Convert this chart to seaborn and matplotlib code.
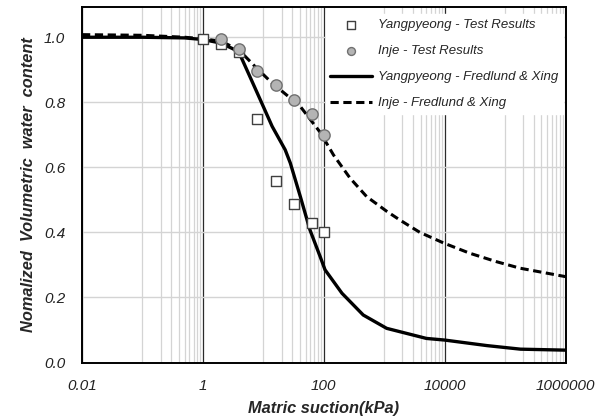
import numpy as np
import pandas as pd
import matplotlib
matplotlib.use("Agg")
import matplotlib.pyplot as plt
from matplotlib.ticker import FixedLocator, FixedFormatter, NullFormatter
import seaborn as sns

# Measured soil-water characteristic points
yang_suction = [1, 2, 4, 8, 16, 32, 64, 100]
yang_theta = [0.995, 0.98, 0.955, 0.75, 0.557, 0.486, 0.43, 0.40]

inje_suction = [2, 4, 8, 16, 32, 64, 100]
inje_theta = [0.995, 0.965, 0.895, 0.852, 0.806, 0.765, 0.70]

# Fredlund & Xing fitted curves
yang_fit_suction = [0.01, 0.1, 0.5, 1, 2, 3.9, 6, 8.9, 14, 23, 28, 41, 59, 87,
                    105, 200, 450, 1100, 5000, 10000, 50000, 180000, 1000000]
yang_fit_theta = [1.0, 1.0, 0.998, 0.993, 0.982, 0.956, 0.879, 0.808, 0.726,
                  0.654, 0.613, 0.510, 0.408, 0.326, 0.285, 0.213, 0.146,
                  0.105, 0.074, 0.069, 0.052, 0.041, 0.038]

inje_fit_suction = [0.01, 0.1, 0.5, 1, 2, 4, 7.3, 14, 28, 41, 87, 145, 272,
                    513, 1100, 1820, 3900, 9730, 26000, 72000, 176000, 1000000]
inje_fit_theta = [1.008, 1.006, 1.0, 0.995, 0.988, 0.96, 0.91, 0.859, 0.813,
                  0.787, 0.708, 0.638, 0.567, 0.51, 0.465, 0.438, 0.40, 0.367,
                  0.336, 0.31, 0.29, 0.264]

x_ticks = [0.01, 1, 100, 10000, 1000000]
x_tick_labels = ["0.01", "1", "100", "10000", "1000000"]
y_ticks = [0.0, 0.2, 0.4, 0.6, 0.8, 1.0]
y_tick_labels = ["0.0", "0.2", "0.4", "0.6", "0.8", "1.0"]

sns.set_style("white")
plt.rcParams["font.family"] = ["Liberation Sans", "DejaVu Sans"]

fig = plt.figure(figsize=(6.06, 4.18), dpi=100)
ax = fig.add_axes([82 / 606, 1 - 362.5 / 418, (565.5 - 82) / 606, (362.5 - 7) / 418])
ax.set_xscale("log")

yang_fit = pd.DataFrame({"s": yang_fit_suction, "t": yang_fit_theta})
inje_fit = pd.DataFrame({"s": inje_fit_suction, "t": inje_fit_theta})
yang = pd.DataFrame({"s": yang_suction, "t": yang_theta})
inje = pd.DataFrame({"s": inje_suction, "t": inje_theta})

sns.lineplot(data=yang_fit, x="s", y="t", ax=ax, color="black", lw=2.4,
             sort=False, estimator=None, label="Yangpyeong - Fredlund & Xing",
             zorder=3)
sns.lineplot(data=inje_fit, x="s", y="t", ax=ax, color="black", lw=2.2,
             sort=False, estimator=None, label="Inje - Fredlund & Xing",
             dashes=False, zorder=3)
ax.lines[-1].set_linestyle((0, (2.7, 1.5)))

sns.scatterplot(data=yang, x="s", y="t", ax=ax, marker="s", s=60,
                facecolor="white", edgecolor="#404040", linewidth=1.0,
                label="Yangpyeong - Test Results", zorder=4)
sns.scatterplot(data=inje, x="s", y="t", ax=ax, marker="o", s=66,
                facecolor="#b4b4b4", edgecolor="#707070", linewidth=1.0,
                label="Inje - Test Results", zorder=5)

ax.set_xlim(0.01, 1000000)
ax.set_ylim(0, 1.093)

# Ticks and grid
ax.xaxis.set_major_locator(FixedLocator(x_ticks))
ax.xaxis.set_major_formatter(FixedFormatter(x_tick_labels))
minor = [k * 10.0 ** d for d in (-1, 1, 3, 5) for k in range(1, 10)]
ax.xaxis.set_minor_locator(FixedLocator(minor))
ax.xaxis.set_minor_formatter(NullFormatter())
ax.yaxis.set_major_locator(FixedLocator(y_ticks))
ax.yaxis.set_major_formatter(FixedFormatter(y_tick_labels))

ax.grid(True, which="minor", axis="x", color="#d4d4d4", lw=0.9, zorder=0)
ax.grid(True, which="major", axis="x", color="#2a2a2a", lw=0.9, zorder=0)
ax.grid(True, which="major", axis="y", color="#d4d4d4", lw=1.0, zorder=0)
ax.set_axisbelow(True)
# the decade line at 1 kPa is drawn in a softer grey
for tick in ax.xaxis.get_major_ticks():
    if np.isclose(tick.get_loc(), 1.0):
        tick.gridline.set_color("#8a8a8a")
        tick.gridline.set_linewidth(1.3)

ax.tick_params(axis="both", which="major", length=3, width=1, color="black",
               labelsize=11, labelcolor="#222222", direction="out")
ax.tick_params(axis="x", which="major", pad=9)
ax.tick_params(axis="y", which="major", pad=9)
ax.tick_params(axis="x", which="minor", length=0)
for lab in ax.get_xticklabels() + ax.get_yticklabels():
    lab.set_fontstyle("italic")

for sp in ax.spines.values():
    sp.set_color("black")
    sp.set_linewidth(1.4)

ax.set_xlabel("Matric suction(kPa)", fontsize=11.8, fontweight="bold",
              fontstyle="italic", labelpad=6)
ax.set_ylabel("Nomalized  Volumetric  water  content", fontsize=11.8,
              fontweight="bold", fontstyle="italic", labelpad=6)

handles, labels = ax.get_legend_handles_labels()
order = [labels.index(n) for n in ("Yangpyeong - Test Results",
                                    "Inje - Test Results",
                                    "Yangpyeong - Fredlund & Xing",
                                    "Inje - Fredlund & Xing")]
leg = ax.legend([handles[i] for i in order], [labels[i] for i in order],
                loc="upper right", bbox_to_anchor=(1.009, 0.998),
                prop={"style": "italic", "size": 9.5}, markerscale=0.7,
                handlelength=3.2, handletextpad=0.45, labelspacing=1.05,
                borderpad=0.35, frameon=True, fancybox=False,
                facecolor="white", edgecolor="white", framealpha=1.0)
leg.set_zorder(6)

fig.savefig("out.png", dpi=100, facecolor="white")
